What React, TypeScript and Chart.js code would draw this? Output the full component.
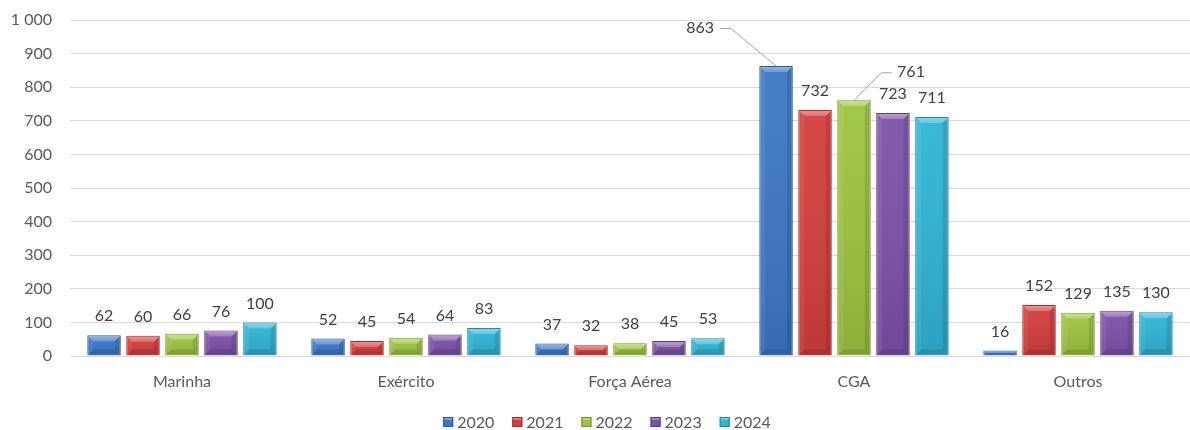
import React, { useEffect, useRef } from "react";
import { Chart, registerables } from "chart.js";

Chart.register(...registerables);

const categories = ["Marinha", "Exército", "Força Aérea", "CGA", "Outros"];
const seriesNames = ["2020", "2021", "2022", "2023", "2024"];
const values2020 = [62, 52, 37, 863, 16];
const values2021 = [60, 45, 32, 732, 152];
const values2022 = [66, 54, 38, 761, 129];
const values2023 = [76, 64, 45, 723, 135];
const values2024 = [100, 83, 53, 711, 130];
const yTickValues = [0, 100, 200, 300, 400, 500, 600, 700, 800, 900, 1000];

const fillColors = ["#3b77c6", "#d43d3d", "#9cc43e", "#7d50a8", "#2fb3d5"];
const borderColors = ["#2b5a97", "#a52c2c", "#76952c", "#5c3a7e", "#2187a2"];

// label callouts (style / placement only)
const callouts: Record<string, { dx: number; dy: number; side: "left" | "right" }> = {
  "0-3": { dx: -76, dy: -38, side: "left" },
  "2-3": { dx: 57, dy: -28, side: "right" },
};

const FONT = "Lato, 'Open Sans', sans-serif";
const TEXT = "#595959";

const formatNum = (v: number) => {
  const s = String(Math.round(v));
  return s.replace(/\B(?=(\d{3})+(?!\d))/g, " ");
};

const bevelPlugin = {
  id: "bevel",
  afterDatasetsDraw(chart: any) {
    const ctx = chart.ctx;
    ctx.save();
    chart.data.datasets.forEach((ds: any, di: number) => {
      const meta = chart.getDatasetMeta(di);
      meta.data.forEach((el: any) => {
        const { x, y, base, width } = el.getProps(["x", "y", "base", "width"], true);
        const l = x - width / 2;
        const r = x + width / 2;
        const t = Math.min(y, base);
        const b = Math.max(y, base);
        const h = b - t;
        const bv = Math.min(6, h / 2, width / 2);
        const g = ctx.createLinearGradient(0, t, 0, b);
        g.addColorStop(0, "rgba(255,255,255,0.06)");
        g.addColorStop(1, "rgba(0,0,0,0.10)");
        ctx.fillStyle = g;
        ctx.fillRect(l + 1, t + 1, width - 2, h - 2);
        const tg = ctx.createLinearGradient(0, t, 0, t + bv);
        tg.addColorStop(0, "rgba(255,255,255,0.45)");
        tg.addColorStop(1, "rgba(255,255,255,0.22)");
        ctx.fillStyle = tg;
        ctx.beginPath();
        ctx.moveTo(l + 1, t + 1);
        ctx.lineTo(r - 1, t + 1);
        ctx.lineTo(r - bv, t + bv);
        ctx.lineTo(l + bv, t + bv);
        ctx.closePath();
        ctx.fill();
        ctx.fillStyle = "rgba(255,255,255,0.07)";
        ctx.beginPath();
        ctx.moveTo(l + 1, t + 1);
        ctx.lineTo(l + bv, t + bv);
        ctx.lineTo(l + bv, b - bv);
        ctx.lineTo(l + 1, b - 1);
        ctx.closePath();
        ctx.fill();
        ctx.fillStyle = "rgba(0,0,0,0.10)";
        ctx.beginPath();
        ctx.moveTo(r - 1, t + 1);
        ctx.lineTo(r - bv, t + bv);
        ctx.lineTo(r - bv, b - bv);
        ctx.lineTo(r - 1, b - 1);
        ctx.closePath();
        ctx.fill();
        ctx.fillStyle = "rgba(0,0,0,0.10)";
        ctx.beginPath();
        ctx.moveTo(l + 1, b - 1);
        ctx.lineTo(l + bv, b - bv);
        ctx.lineTo(r - bv, b - bv);
        ctx.lineTo(r - 1, b - 1);
        ctx.closePath();
        ctx.fill();
      });
    });
    ctx.restore();
  },
};

const labelPlugin = {
  id: "valueLabels",
  afterDatasetsDraw(chart: any) {
    const ctx = chart.ctx;
    ctx.save();
    ctx.font = `16px ${FONT}`;
    ctx.fillStyle = "#404040";
    ctx.textAlign = "center";
    ctx.textBaseline = "middle";
    chart.data.datasets.forEach((ds: any, di: number) => {
      const meta = chart.getDatasetMeta(di);
      meta.data.forEach((el: any, i: number) => {
        const { x, y } = el.getProps(["x", "y"], true);
        const txt = formatNum(ds.data[i]);
        const c = callouts[`${di}-${i}`];
        if (c) {
          const lx = x + c.dx;
          const ly = y + c.dy;
          const w = ctx.measureText(txt).width;
          ctx.fillText(txt, lx, ly);
          ctx.strokeStyle = "#a6a6a6";
          ctx.lineWidth = 1;
          ctx.beginPath();
          if (c.side === "left") {
            const sx = lx + w / 2 + 6;
            ctx.moveTo(sx, ly + 0.5);
            ctx.lineTo(sx + 11, ly + 0.5);
          } else {
            const sx = lx - w / 2 - 5;
            ctx.moveTo(sx, ly + 0.5);
            ctx.lineTo(sx - 11, ly + 0.5);
          }
          ctx.lineTo(x, y);
          ctx.stroke();
        } else {
          ctx.fillText(txt, x, y - 19);
        }
      });
    });
    ctx.restore();
  },
};

const legendPlugin = {
  id: "customLegend",
  afterDraw(chart: any) {
    const ctx = chart.ctx;
    ctx.save();
    ctx.font = `16px ${FONT}`;
    ctx.textBaseline = "middle";
    ctx.textAlign = "left";
    const box = 10;
    const gap = 4;
    const spacing = 18;
    const items = chart.data.datasets.map((ds: any) => ({
      label: ds.label,
      w: ctx.measureText(ds.label).width,
      color: ds.backgroundColor,
      border: ds.borderColor,
    }));
    const total =
      items.reduce((s: number, it: any) => s + box + gap + it.w, 0) + spacing * (items.length - 1);
    let cx = chart.width / 2 + 12 - total / 2;
    const cy = 422;
    items.forEach((it: any) => {
      ctx.fillStyle = it.color;
      ctx.fillRect(cx, cy - box / 2, box, box);
      ctx.fillStyle = "rgba(255,255,255,0.3)";
      ctx.fillRect(cx + 1, cy - box / 2 + 1, box - 2, 2);
      ctx.strokeStyle = it.border;
      ctx.lineWidth = 1;
      ctx.strokeRect(cx + 0.5, cy - box / 2 + 0.5, box - 1, box - 1);
      ctx.fillStyle = TEXT;
      ctx.fillText(it.label, cx + box + gap, cy + 1);
      cx += box + gap + it.w + spacing;
    });
    ctx.restore();
  },
};

export default function App() {
  const ref = useRef<HTMLCanvasElement | null>(null);
  useEffect(() => {
    document.body.style.margin = "0";
    if (!ref.current) return;
    const allValues = [values2020, values2021, values2022, values2023, values2024];
    const chart = new Chart(ref.current, {
      type: "bar",
      data: {
        labels: categories,
        datasets: seriesNames.map((name, i) => ({
          label: name,
          data: allValues[i],
          backgroundColor: fillColors[i],
          borderColor: borderColors[i],
          borderWidth: 1,
          categoryPercentage: 0.87,
          barPercentage: 0.86,
        })),
      },
      options: {
        responsive: false,
        animation: false,
        layout: { padding: { top: 20, left: 0, right: 0, bottom: 0 } },
        plugins: {
          legend: { display: false },
          tooltip: { enabled: false },
        },
        scales: {
          x: {
            grid: { display: false, drawTicks: false },
            border: { display: false },
            ticks: {
              color: TEXT,
              font: { family: FONT, size: 16 },
              padding: 16,
            },
            afterFit(scale: any) {
              scale.height = 74;
              scale.paddingLeft = 0;
              scale.paddingRight = 0;
            },
          },
          y: {
            min: 0,
            max: 1000,
            afterBuildTicks(scale: any) {
              scale.ticks = yTickValues.map((v) => ({ value: v }));
            },
            grid: { color: "#d9d9d9", lineWidth: 1, drawTicks: false },
            border: { display: false },
            ticks: {
              color: TEXT,
              font: { family: FONT, size: 16 },
              padding: 18,
              callback: (v: any) => formatNum(Number(v)),
            },
            afterFit(scale: any) {
              scale.width = 70;
              scale.paddingTop = 0;
              scale.paddingBottom = 0;
            },
          },
        },
      },
      plugins: [bevelPlugin, labelPlugin, legendPlugin],
    });
    return () => chart.destroy();
  }, []);
  return (
    <div style={{ position: "absolute", left: 0, top: 0, width: 1190, height: 430, background: "#fff" }}>
      <canvas ref={ref} width={1190} height={430} />
    </div>
  );
}
